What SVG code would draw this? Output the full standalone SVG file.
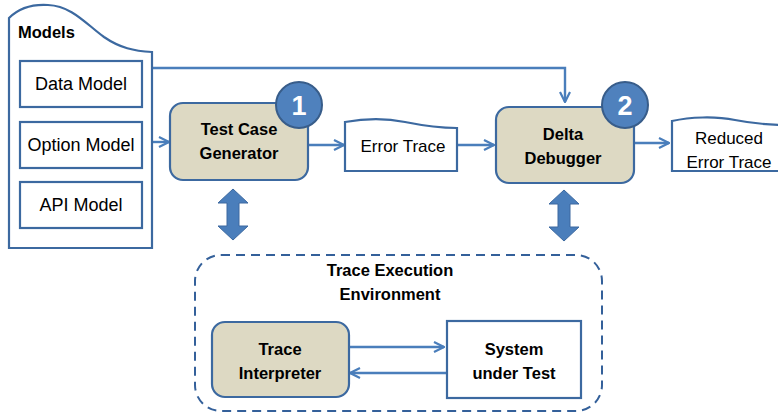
<svg xmlns="http://www.w3.org/2000/svg" width="778" height="414" viewBox="0 0 778 414">
<defs>
<style>
.box{fill:#ffffff;stroke:#3c69a0;stroke-width:2.2}
.proc{fill:#ddd9c3;stroke:#3c69a0;stroke-width:2.2}
.conn{fill:none;stroke:#4a7ebb;stroke-width:2.4}
.badge{fill:#4f81bd;stroke:#385d8a;stroke-width:2}
.t{font-family:"Liberation Sans",Arial,sans-serif;font-size:17px;fill:#000}
.m{font-size:18px}
.b{font-family:"Liberation Sans",Arial,sans-serif;font-size:16.5px;font-weight:bold;fill:#000}
.n{font-family:"Liberation Sans",Arial,sans-serif;font-size:27px;font-weight:bold;fill:#fff}
.dbl{fill:#4a7ebb;stroke:#3c69a0;stroke-width:1}
</style>
<marker id="ah" viewBox="0 0 12 12" refX="11" refY="6" markerWidth="12" markerHeight="12" markerUnits="userSpaceOnUse" orient="auto">
<path d="M1,1 L11,6 L1,11" fill="none" stroke="#4a7ebb" stroke-width="2.2"/>
</marker>
</defs>
<rect width="778" height="414" fill="#ffffff"/>

<g id="connectors">
<path class="conn" d="M152,68 H565 V102" marker-end="url(#ah)"/>
<path class="conn" d="M152,142 H169" marker-end="url(#ah)"/>
<path class="conn" d="M308,145 H344" marker-end="url(#ah)"/>
<path class="conn" d="M457,145 H494" marker-end="url(#ah)"/>
<path class="conn" d="M634,143 H669" marker-end="url(#ah)"/>
<path class="conn" d="M349,347 H444" marker-end="url(#ah)"/>
<path class="conn" d="M447,373 H350" marker-end="url(#ah)"/>
<path class="dbl" d="M233,189 L248,203 L239,203 L239,226 L248,226 L233,240 L218,226 L227,226 L227,203 L218,203 Z"/>
<path class="dbl" d="M564,190 L579,204 L570,204 L570,227 L579,227 L564,241 L549,227 L558,227 L558,204 L549,204 Z"/>
</g>

<g id="models">
<path class="box" d="M9,248 L9,18 C18,9 32,4 48,5 C72,6 86,24 104,37 C120,48 134,51 152,52 L152,248 Z"/>
<text class="b" x="18" y="38" font-size="17px">Models</text>
</g>
<g id="data-model">
<rect class="box" x="20" y="61" width="122" height="46"/>
<text class="t m" x="81" y="90" text-anchor="middle">Data Model</text>
</g>
<g id="option-model">
<rect class="box" x="20" y="122" width="122" height="46"/>
<text class="t m" x="81" y="151" text-anchor="middle">Option Model</text>
</g>
<g id="api-model">
<rect class="box" x="20" y="182" width="122" height="46"/>
<text class="t m" x="81" y="211" text-anchor="middle">API Model</text>
</g>

<g id="test-case-generator">
<rect class="proc" x="170" y="103" width="138" height="77" rx="13"/>
<text class="b" x="239" y="135" text-anchor="middle">Test Case</text>
<text class="b" x="239" y="159" text-anchor="middle">Generator</text>
<circle class="badge" cx="299" cy="105" r="23"/>
<text class="n" x="299" y="115" text-anchor="middle">1</text>
</g>

<g id="error-trace">
<path class="box" d="M345,171 L345,122 C362,119 385,118 405,122 C425,126 440,128 457,128 L457,171 Z"/>
<text class="t" x="403" y="152" text-anchor="middle">Error Trace</text>
</g>

<g id="delta-debugger">
<rect class="proc" x="496" y="107" width="138" height="76" rx="13"/>
<text class="b" x="563" y="140" text-anchor="middle">Delta</text>
<text class="b" x="563" y="164" text-anchor="middle">Debugger</text>
<circle class="badge" cx="625" cy="105" r="23"/>
<text class="n" x="625" y="115" text-anchor="middle">2</text>
</g>

<g id="reduced-error-trace">
<path class="box" d="M672,171 L672,121 C690,117 715,116 735,120 C755,124 770,125 790,125 L790,171 Z"/>
<text class="t" x="729" y="144" text-anchor="middle">Reduced</text>
<text class="t" x="729" y="168" text-anchor="middle">Error Trace</text>
</g>

<g id="trace-execution-environment">
<rect x="195" y="255" width="407" height="156" rx="26" fill="none" stroke="#34609a" stroke-width="2" stroke-dasharray="9,6"/>
<text class="b" x="390" y="276" text-anchor="middle">Trace Execution</text>
<text class="b" x="390" y="300" text-anchor="middle">Environment</text>
</g>

<g id="trace-interpreter">
<rect class="proc" x="212" y="322" width="137" height="75" rx="13"/>
<text class="b" x="280" y="355" text-anchor="middle">Trace</text>
<text class="b" x="280" y="379" text-anchor="middle">Interpreter</text>
</g>

<g id="system-under-test">
<rect class="box" x="447" y="321" width="134" height="77"/>
<text class="b" x="514" y="355" text-anchor="middle">System</text>
<text class="b" x="514" y="379" text-anchor="middle">under Test</text>
</g>
</svg>
